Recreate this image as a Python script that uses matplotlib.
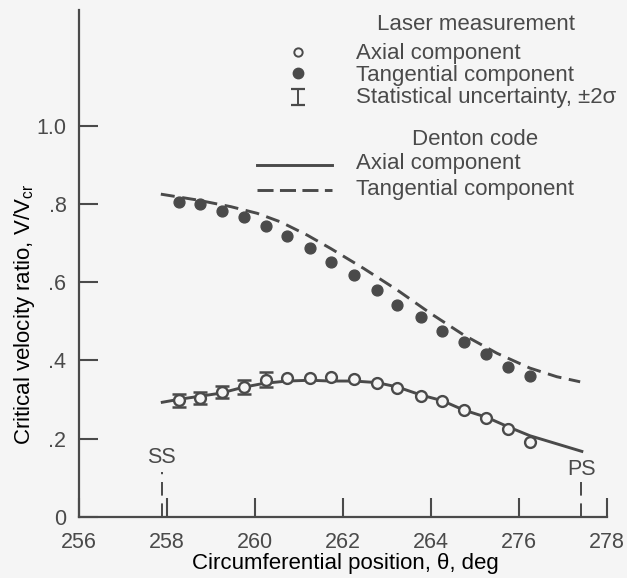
import matplotlib
matplotlib.use("Agg")
from matplotlib import pyplot as plt
from matplotlib.lines import Line2D

# Laser measurement, circumferential position (deg)
theta_meas = [258.27, 258.75, 259.24, 259.74, 260.24, 260.73, 261.25, 261.73, 262.25,
              262.77, 263.23, 263.78, 264.25, 264.74, 265.25, 265.76, 266.26]
axial_meas = [0.298, 0.303, 0.319, 0.332, 0.350, 0.356, 0.356, 0.358, 0.351,
              0.341, 0.328, 0.309, 0.296, 0.273, 0.252, 0.224, 0.192]
tang_meas = [0.806, 0.801, 0.782, 0.767, 0.743, 0.718, 0.686, 0.651, 0.618,
             0.580, 0.542, 0.510, 0.475, 0.448, 0.416, 0.382, 0.360]
# +-2 sigma, only shown on the first five axial points
axial_err = [0.017, 0.015, 0.016, 0.017, 0.019]

# Denton code
theta_axial_code = [257.86, 258.26, 259.22, 259.73, 260.20, 260.73, 261.26, 261.71, 262.25,
                    262.77, 263.23, 263.78, 264.25, 264.74, 265.27, 265.75, 266.25, 267.46]
axial_code = [0.292, 0.300, 0.316, 0.331, 0.341, 0.347, 0.349, 0.347, 0.347,
              0.343, 0.332, 0.311, 0.297, 0.273, 0.254, 0.230, 0.207, 0.166]
theta_tang_code = [257.86, 258.69, 259.45, 260.05, 260.58, 261.19, 261.72, 262.47,
                   263.23, 263.99, 264.74, 265.50, 266.25, 266.86, 267.39]
tang_code = [0.825, 0.810, 0.793, 0.776, 0.754, 0.720, 0.686, 0.635,
             0.580, 0.520, 0.465, 0.418, 0.380, 0.358, 0.345]

x_ticks = [256, 258, 260, 262, 264, 266, 268]
x_ticklabels = ["256", "258", "260", "262", "264", "276", "278"]
y_ticks = [0, 0.2, 0.4, 0.6, 0.8, 1.0]
y_ticklabels = ["0", ".2", ".4", ".6", ".8", "1.0"]

ss_theta = 257.88
ps_theta = 267.42

INK = "#4a4a4a"
BG = "#f5f5f5"
W, H = 627, 578

plt.rcParams["font.family"] = ["Liberation Sans", "DejaVu Sans"]
plt.rcParams["mathtext.default"] = "regular"
plt.rcParams["text.color"] = INK

fig = plt.figure(figsize=(W / 100, H / 100), dpi=100, facecolor=BG)
ax = fig.add_axes([79 / W, 1 - 516.7 / H, 528 / W, 506.7 / H])
ax.set_facecolor(BG)


def px(x, y):
    return x / W, 1 - y / H


# model curves
ax.plot(theta_axial_code, axial_code, color=INK, lw=2.1, solid_capstyle="butt")
ax.plot(theta_tang_code, tang_code, color=INK, lw=2.1, dashes=(4.8, 2.6))

# measurements
n_err = len(axial_err)
ax.errorbar(theta_meas[:n_err], axial_meas[:n_err], yerr=axial_err, fmt="none",
            ecolor=INK, elinewidth=1.6, capsize=4.7, capthick=1.8)
ax.plot(theta_meas, axial_meas, "o", ms=7.8, mfc=BG, mec=INK, mew=1.7)
ax.plot(theta_meas, tang_meas, "o", ms=7.8, mfc=INK, mec=INK, mew=1)

# suction / pressure side marks
ax.plot([ss_theta, ss_theta], [0, 0.115], color=INK, lw=1.4, dashes=(7, 4))
ax.plot([ps_theta, ps_theta], [0, 0.09], color=INK, lw=1.4, dashes=(7, 4))
ax.text(ss_theta, 0.152, "SS", ha="center", va="center", fontsize=15.5)
ax.text(ps_theta, 0.120, "PS", ha="center", va="center", fontsize=15.5)

ax.set_xlim(256, 268)
ax.set_ylim(0, 1.296)
ax.set_xticks(x_ticks)
ax.set_xticklabels(x_ticklabels)
ax.set_yticks(y_ticks)
ax.set_yticklabels(y_ticklabels)
ax.tick_params(direction="in", length=13.5, width=1.5, color=INK,
               labelcolor=INK, labelsize=15.5)
ax.tick_params(axis="x", pad=11)
ax.tick_params(axis="y", pad=9)
for side in ("top", "right"):
    ax.spines[side].set_visible(False)
for side in ("left", "bottom"):
    ax.spines[side].set_color(INK)
    ax.spines[side].set_linewidth(1.6)

ax.set_xlabel("Circumferential position, \u03b8, deg", fontsize=16, va="center")
ax.set_ylabel("Critical velocity ratio, V/V$_{cr}$", fontsize=16, va="center")
ax.xaxis.set_label_coords(0.504, -(563 - 516.7) / 506.7)
ax.yaxis.set_label_coords(-(79 - 25) / 528, (516.7 - 315) / 506.7)

# hand-made key
fs = 16
fig.text(*px(476, 25), "Laser measurement", ha="center", va="center", fontsize=fs)
fig.text(*px(356, 53), "Axial component", ha="left", va="center", fontsize=fs)
fig.text(*px(356, 76), "Tangential component", ha="left", va="center", fontsize=fs)
fig.text(*px(356, 98), "Statistical uncertainty, \u00b12\u03c3", ha="left", va="center", fontsize=fs)
fig.text(*px(475, 140), "Denton code", ha="center", va="center", fontsize=fs)
fig.text(*px(356, 164), "Axial component", ha="left", va="center", fontsize=fs)
fig.text(*px(356, 189), "Tangential component", ha="left", va="center", fontsize=fs)

mx, _ = px(298, 0)
fig.add_artist(Line2D([mx], [px(0, 52)[1]], marker="o", ms=6, mfc=BG, mec=INK, mew=1.4))
fig.add_artist(Line2D([mx], [px(0, 73)[1]], marker="o", ms=7.5, mfc=INK, mec=INK))
fig.add_artist(Line2D([mx, mx], [px(0, 89)[1], px(0, 105)[1]], color=INK, lw=1.4))
fig.add_artist(Line2D([mx, mx], [px(0, 89)[1], px(0, 105)[1]], ls="none",
                      marker="_", ms=9.4, mew=1.6, color=INK))
x0, _ = px(257, 0)
x1, _ = px(332, 0)
fig.add_artist(Line2D([x0, x1], [px(0, 165)[1]] * 2, color=INK, lw=2.1))
fig.add_artist(Line2D([x0, x1], [px(0, 190)[1]] * 2, color=INK, lw=2.1, dashes=(5.5, 2.2)))

fig.savefig("out.png", dpi=100, facecolor=BG)
